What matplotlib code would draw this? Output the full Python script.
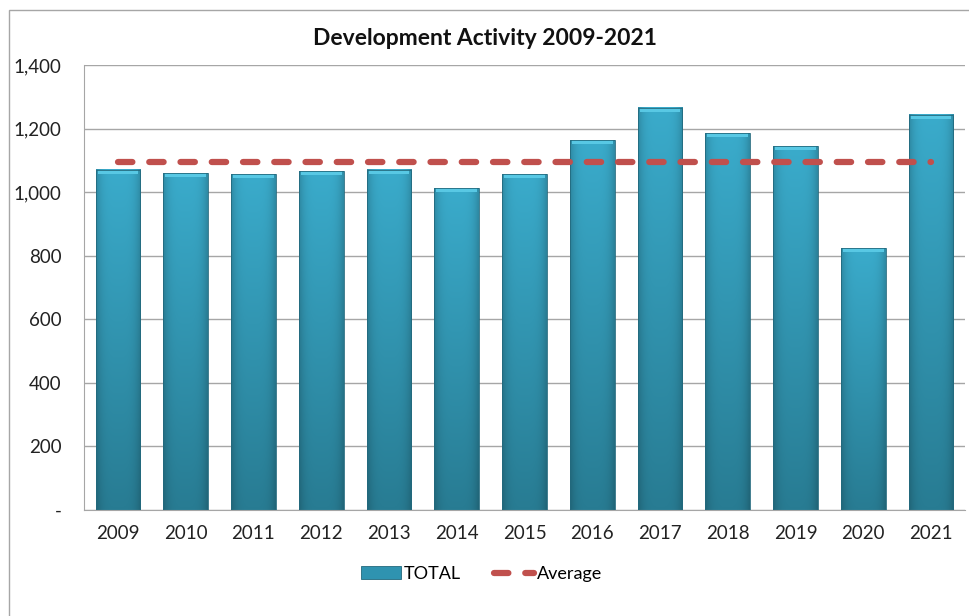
import numpy as np
import matplotlib
matplotlib.use("Agg")
import matplotlib.pyplot as plt
from matplotlib.patches import Patch, Rectangle
from matplotlib.lines import Line2D
from matplotlib.ticker import FuncFormatter

plt.rcParams['font.family'] = ['Lato', 'DejaVu Sans']

years = ['2009', '2010', '2011', '2012', '2013', '2014', '2015',
         '2016', '2017', '2018', '2019', '2020', '2021']
totals = [1070, 1060, 1057, 1066, 1070, 1012, 1057,
          1164, 1265, 1186, 1145, 824, 1243]
average = 1095
yticks = [0, 200, 400, 600, 800, 1000, 1200, 1400]

bar_top = np.array([0x3a, 0xab, 0xcb]) / 255
bar_bot = np.array([0x28, 0x7c, 0x93]) / 255
avg_color = '#c0504d'
avg_dash = (0, (2.3, 2.7))

fig = plt.figure(figsize=(9.69, 6.16), dpi=100)
ax = fig.add_axes([84 / 969, 106 / 616, 881 / 969, 445 / 616])

x = np.arange(len(years))
bars = ax.bar(x, totals, width=0.66, color='none', edgecolor='none', zorder=2)

# gradient fill for every bar (lighter at top, darker at sides)
ny, nx = 64, 32
t = np.linspace(0, 1, ny)[:, None]
s = np.linspace(-1, 1, nx)[None, :]
shade = 1 - 0.18 * s ** 4
for b in bars:
    x0, w, h = b.get_x(), b.get_width(), b.get_height()
    rgb = (bar_top[None, None, :] * (1 - t[..., None]) + bar_bot[None, None, :] * t[..., None])
    rgb = rgb * shade[..., None]
    ax.imshow(np.clip(rgb, 0, 1), extent=[x0, x0 + w, 0, h], aspect='auto',
              origin='upper', zorder=2, interpolation='bilinear')
    # light bevel on top
    ax.add_patch(Rectangle((x0 + 0.03, h - 13), w - 0.06, 13,
                           facecolor='#58c8e4', edgecolor='none', zorder=3))
    ax.add_patch(Rectangle((x0, 0), w, h, facecolor='none',
                           edgecolor='#23697d', lw=0.6, zorder=3))

ax.plot(x, [average] * len(x), color=avg_color, lw=4.5, ls=avg_dash,
        dash_capstyle='round', zorder=4)

ax.set_xlim(-0.5, len(years) - 0.5)
ax.set_ylim(0, 1400)
ax.set_yticks(yticks)
ax.yaxis.set_major_formatter(FuncFormatter(lambda v, p: '-' if v == 0 else f'{int(v):,}'))
ax.set_xticks(x)
ax.set_xticklabels(years)
ax.tick_params(length=0, labelsize=13.5, colors='#222222')
ax.tick_params(axis='y', pad=16)
ax.tick_params(axis='x', pad=11)
ax.grid(axis='y', color='#a6a6a6', lw=1, zorder=0)
ax.set_axisbelow(True)
for side in ['top', 'right']:
    ax.spines[side].set_visible(False)
ax.spines['left'].set_color('#a6a6a6')
ax.spines['bottom'].set_color('#a6a6a6')

fig.text(0.5, 0.938, 'Development Activity 2009-2021', ha='center', va='center',
         fontsize=16.5, fontweight='bold', color='#111111')

handles = [Patch(facecolor='#2f93b0', edgecolor='#23697d', lw=0.6),
           Line2D([], [], color=avg_color, lw=4.5, ls=avg_dash, dash_capstyle='round')]
fig.legend(handles, ['TOTAL', 'Average'], loc='center', bbox_to_anchor=(0.497, 0.068),
           ncol=2, frameon=False, fontsize=13, handlelength=2.2, handletextpad=0.2,
           columnspacing=1.8)

fig.patches.append(Rectangle((9 / 969, -0.1), 1.2, 1 - 10 / 616 + 0.1, transform=fig.transFigure,
                             facecolor='none', edgecolor='#a6a6a6', lw=1))

fig.savefig('out.png', dpi=100)
